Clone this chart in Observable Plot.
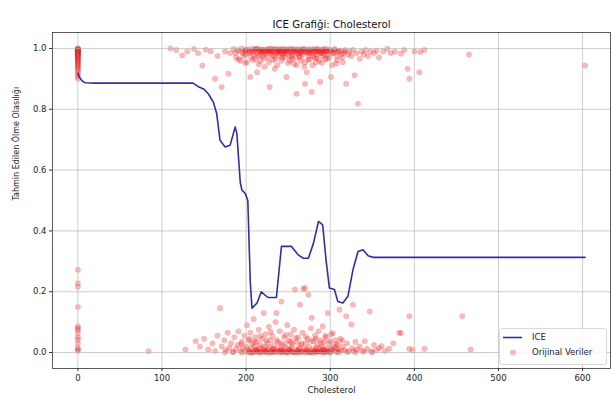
<!DOCTYPE html>
<html>
<head>
<meta charset="utf-8">
<script src="https://cdn.jsdelivr.net/npm/d3@7"></script>
<script src="https://cdn.jsdelivr.net/npm/@observablehq/plot@0.6"></script>
<style>
  html, body { margin: 0; padding: 0; background: white; }
  #chart { position: relative; width: 611px; height: 399px; }
</style>
</head>
<body>
<div id="chart"></div>
<script>
// ---- Texts ----
const titleText = "ICE Grafiği: Cholesterol";
const xLabel = "Cholesterol";
const yLabel = "Tahmin Edilen Ölme Olasılığı";
const legendLabels = ["ICE", "Orijinal Veriler"];

// ---- Ticks ----
const xTicks = [0, 100, 200, 300, 400, 500, 600];
const yTicks = [0.0, 0.2, 0.4, 0.6, 0.8, 1.0];

// ---- ICE curve ----
const iceChol = [0, 2, 4, 6, 9, 20, 60, 100, 137, 144, 150, 155, 161, 165, 169, 175, 181, 187, 189, 191, 193, 195, 199, 202, 205, 207, 213, 218, 222, 226, 236, 242, 254, 262, 268, 274, 280, 286, 291, 295, 299, 305, 309, 315, 321, 327, 333, 339, 345, 351, 450, 603];
const iceProb = [0.918, 0.905, 0.897, 0.891, 0.887, 0.886, 0.886, 0.886, 0.886, 0.873, 0.866, 0.851, 0.824, 0.786, 0.698, 0.676, 0.682, 0.742, 0.72, 0.64, 0.56, 0.534, 0.523, 0.50, 0.228, 0.146, 0.163, 0.20, 0.19, 0.181, 0.181, 0.349, 0.349, 0.321, 0.31, 0.31, 0.359, 0.431, 0.42, 0.305, 0.212, 0.207, 0.168, 0.163, 0.185, 0.272, 0.332, 0.338, 0.318, 0.313, 0.313, 0.313];

// ---- Original data: cholesterol = 0 group ----
const zeroCholTopProbs = [1.0, 0.999, 0.998, 0.997, 0.996, 0.995, 0.994, 0.993, 0.992, 0.99, 0.99, 0.989, 0.988, 0.986, 0.985, 0.984, 0.983, 0.98, 0.979, 0.978, 0.975, 0.974, 0.972, 0.97, 0.968, 0.965, 0.962, 0.96, 0.957, 0.953, 0.95, 0.946, 0.942, 0.938, 0.933, 0.928, 0.922, 0.915, 0.908, 0.9];
const zeroCholBottomProbs = [0.272, 0.228, 0.216, 0.15, 0.086, 0.08, 0.075, 0.064, 0.05, 0.043, 0.03, 0.015, 0.01, 0.005];

// ---- Original data: upper band [cholesterol, probability] ----
const upperBand = [
  [110,1.0],[117,0.995],[124,0.977],[130,0.99],[138,0.998],[143,0.985],[148,0.944],[152,0.996],[158,0.99],[163,0.90],[166,0.975],[171,0.873],[175,0.99],[179,0.917],[181,0.985],
  [185,0.998],[187,0.985],[188,0.97],[190,0.995],[192,0.99],[193,0.96],[195,1.0],[196,0.985],[197,0.975],[199,0.993],[200,0.98],[201,0.955],[202,0.997],[204,0.988],[205,0.906],[206,0.97],[207,0.999],[208,0.99],[209,0.978],[210,0.995],[211,0.965],[212,0.985],[213,0.922],[214,1.0],[215,0.993],[216,0.98],[217,0.96],[218,0.997],[219,0.988],[220,0.975],[221,0.995],[222,0.94],[223,0.99],[224,0.983],[225,0.998],[226,0.97],[227,0.992],[228,0.873],[229,0.985],[230,1.0],[231,0.978],[232,0.995],[233,0.99],[234,0.933],[235,0.965],[236,0.997],[237,0.985],[238,0.992],[239,0.975],[240,0.999],[241,0.988],[242,0.96],[243,0.995],[244,0.98],[245,0.99],[246,0.97],[247,0.998],[248,0.906],[249,0.985],[250,0.993],[251,0.975],[252,0.96],[253,0.997],[254,0.988],[255,0.98],[256,0.995],[257,0.95],[258,0.99],[259,0.97],[260,0.851],[261,0.998],[262,0.985],[263,0.975],[264,0.993],[265,0.96],[266,0.99],[267,0.98],[268,0.997],[269,0.94],[270,0.884],[271,0.988],[272,0.922],[273,0.995],[274,0.975],[275,0.99],[276,0.965],[277,0.998],[278,0.857],[279,0.985],[280,0.993],[281,0.97],[282,0.99],[283,0.955],[284,0.997],[285,0.98],[286,0.99],[287,0.96],[288,0.89],[289,0.995],[290,0.985],[291,0.975],[292,0.998],[293,0.99],[294,0.965],[295,0.993],[297,0.98],[298,0.995],[299,0.97],[301,0.906],[302,0.99],[303,0.985],[305,0.998],[307,0.95],[308,0.975],[310,0.99],[312,0.993],[314,0.97],[316,0.985],[318,0.995],[319,0.884],[321,0.98],[323,0.99],[325,0.975],[327,0.995],[329,0.912],[331,0.985],[333,0.818],[335,0.966],[337,0.99],[340,0.98],[342,0.995],[345,0.975],[348,0.99],[352,0.985],[355,0.993],[358,0.97],[363,0.99],[368,0.999],[372,0.985],[377,0.99],[384,0.983],[388,0.995],[392,0.933],[394,0.90],[400,0.99],[406,0.922],[407,0.988],[412,0.995],[465,0.98],[603,0.944],
  [198,0.99],[203,0.985],[211,0.998],[214,0.975],[217,0.99],[219,0.995],[222,0.985],[225,0.99],[228,0.998],[231,0.99],[233,0.975],[236,0.985],[239,0.995],[241,0.99],[244,0.998],[246,0.985],[248,0.995],[251,0.99],[254,0.975],[257,0.998],[259,0.99],[262,0.995],[265,0.985],[267,0.99],[270,0.998],[273,0.985],[275,0.995],[278,0.99],[280,0.975],[283,0.99],[285,0.998],[288,0.985],[290,0.995],[293,0.98],[296,0.99],[300,0.995],[304,0.985],[309,0.99],[313,0.98],[317,0.99],
  [200,0.995],[206,0.99],[212,0.997],[218,0.99],[224,0.995],[229,0.99],[234,0.998],[238,0.99],[243,0.985],[247,0.99],[252,0.998],[256,0.99],[261,0.985],[266,0.998],[271,0.99],[276,0.985],[281,0.998],[286,0.99],[291,0.99],[295,0.998],[299,0.99],[306,0.995],
  [191,0.965],[199,0.952],[208,0.962],[215,0.948],[221,0.968],[227,0.955],[232,0.962],[237,0.945],[243,0.97],[250,0.952],[255,0.965],[260,0.945],[264,0.97],[270,0.955],[274,0.962],[279,0.945],[284,0.968],[290,0.952],[296,0.965],[302,0.945],[308,0.962],[315,0.955]
];

// ---- Original data: lower band [cholesterol, probability] ----
const lowerBand = [
  [84,0.004],[128,0.01],[140,0.037],[145,0.02],[150,0.045],[155,0.01],[160,0.03],[163,0.005],[166,0.055],[169,0.146],[171,0.02],[174,0.04],[176,0.008],[178,0.065],[180,0.015],[182,0.03],[184,0.002],[186,0.05],[188,0.012],[190,0.025],[191,0.07],[193,0.005],[195,0.035],[196,0.015],[198,0.055],[199,0.003],[200,0.02],[201,0.09],[202,0.01],[203,0.04],[204,0.005],[205,0.065],[206,0.015],[207,0.03],[208,0.002],[209,0.11],[210,0.02],[211,0.05],[212,0.008],[213,0.035],[214,0.003],[215,0.075],[216,0.015],[217,0.025],[218,0.005],[219,0.045],[220,0.012],[221,0.13],[222,0.02],[223,0.06],[224,0.004],[225,0.03],[226,0.01],[227,0.085],[228,0.018],[229,0.04],[230,0.002],[231,0.055],[232,0.012],[233,0.025],[234,0.006],[235,0.1],[236,0.13],[237,0.015],[238,0.035],[239,0.004],[240,0.07],[241,0.01],[242,0.168],[243,0.022],[244,0.005],[245,0.05],[246,0.015],[247,0.03],[248,0.003],[249,0.09],[250,0.012],[251,0.04],[252,0.006],[253,0.06],[254,0.018],[255,0.028],[256,0.002],[257,0.075],[258,0.207],[259,0.01],[260,0.035],[261,0.005],[262,0.05],[263,0.015],[264,0.157],[265,0.025],[266,0.004],[267,0.065],[268,0.21],[269,0.012],[270,0.212],[271,0.03],[272,0.006],[273,0.045],[274,0.19],[275,0.018],[276,0.003],[277,0.08],[278,0.114],[279,0.01],[280,0.038],[281,0.005],[282,0.055],[283,0.015],[284,0.025],[285,0.002],[286,0.07],[287,0.012],[288,0.04],[289,0.006],[290,0.02],[291,0.086],[292,0.01],[293,0.035],[294,0.004],[295,0.05],[296,0.015],[297,0.13],[298,0.008],[299,0.03],[300,0.002],[301,0.06],[302,0.012],[303,0.064],[304,0.02],[305,0.005],[306,0.04],[307,0.015],[308,0.003],[309,0.025],[310,0.01],[311,0.141],[312,0.045],[313,0.006],[315,0.02],[317,0.008],[319,0.119],[320,0.03],[322,0.004],[325,0.092],[326,0.015],[327,0.157],[328,0.006],[330,0.035],[332,0.01],[335,0.02],[338,0.005],[341,0.037],[344,0.012],[347,0.135],[349,0.004],[352,0.025],[355,0.008],[358,0.015],[361,0.021],[365,0.005],[370,0.012],[375,0.03],[382,0.065],[384,0.064],[394,0.119],[394,0.012],[398,0.008],[412,0.012],[457,0.119],[467,0.01],
  [205,0.0],[210,0.003],[215,0.0],[220,0.002],[225,0.0],[230,0.004],[235,0.001],[240,0.0],[245,0.003],[250,0.0],[255,0.002],[260,0.0],[265,0.003],[270,0.0],[275,0.002],[280,0.0],[285,0.004],[290,0.0],[295,0.002],[300,0.0],[212,0.01],[222,0.008],[232,0.01],[242,0.006],[252,0.01],[262,0.008],[272,0.01],[282,0.006],[292,0.01],[302,0.008],[175,0.0],[185,0.002],[195,0.0],[310,0.0],[320,0.002],[330,0.0],[340,0.003],[350,0.0],
  [203,0.002],[208,0.0],[213,0.005],[218,0.001],[223,0.003],[228,0.0],[233,0.002],[238,0.005],[243,0.001],[248,0.0],[253,0.004],[258,0.001],[263,0.0],[268,0.003],[273,0.001],[278,0.0],[283,0.002],[288,0.004],[293,0.0],[298,0.003],
  [194,0.028],[204,0.045],[210,0.035],[217,0.055],[224,0.04],[229,0.068],[236,0.042],[241,0.03],[247,0.058],[253,0.035],[259,0.048],[266,0.03],[271,0.052],[277,0.038],[283,0.045],[289,0.03],[294,0.055],[300,0.038],[307,0.028],[314,0.04]
];

// ---- Build tables ----
const ice = iceChol.map((c, i) => ({chol: c, prob: iceProb[i]}));
const original = [
  ...zeroCholTopProbs.map(p => ({chol: 0, prob: p})),
  ...zeroCholBottomProbs.map(p => ({chol: 0, prob: p})),
  ...upperBand.map(([c, p]) => ({chol: c, prob: p})),
  ...lowerBand.map(([c, p]) => ({chol: c, prob: p}))
];

const lineColor = "#3030a6";
const dotColor = "red";
const dotOpacity = 0.28;

const chart = Plot.plot({
  width: 611,
  height: 399,
  marginLeft: 52,
  marginRight: 1,
  marginTop: 32,
  marginBottom: 31,
  style: {fontFamily: "DejaVu Sans, sans-serif", fontSize: "8.5px", background: "white", color: "#222", overflow: "visible"},
  x: {domain: [-30.2, 633.2], label: null},
  y: {domain: [-0.0525, 1.0525], label: null},
  marks: [
    Plot.dot(original, {x: "chol", y: "prob", r: 2.8, fill: dotColor, fillOpacity: dotOpacity, stroke: "#a07878", strokeOpacity: 0.2, strokeWidth: 0.6}),
    Plot.gridX(xTicks, {stroke: "#b0b0b0", strokeOpacity: 0.9, strokeWidth: 0.7}),
    Plot.gridY(yTicks, {stroke: "#b0b0b0", strokeOpacity: 0.9, strokeWidth: 0.7}),
    Plot.line(ice, {x: "chol", y: "prob", stroke: lineColor, strokeWidth: 1.6}),
    Plot.frame({stroke: "#333", strokeWidth: 0.8}),
    Plot.axisX(xTicks, {tickSize: 3, tickPadding: 3, tickFormat: d => String(d), stroke: "#333", fill: "#222", label: null}),
    Plot.axisY(yTicks, {tickSize: 3, tickPadding: 3, tickFormat: d => d.toFixed(1), stroke: "#333", fill: "#222", label: null}),
    Plot.text([titleText], {frameAnchor: "top", dy: -12, fontSize: 10.2, fill: "#111"}),
    Plot.text([xLabel], {frameAnchor: "bottom", dy: 24, fontSize: 8.5, fill: "#222"}),
    Plot.text([yLabel], {frameAnchor: "left", dx: -36, rotate: -90, fontSize: 8, fill: "#222"})
  ]
});

document.getElementById("chart").appendChild(chart);

// ---- Legend (lower right, inside axes) ----
const svg = d3.select(chart);
const lg = svg.append("g").attr("font-family", "DejaVu Sans, sans-serif").attr("font-size", "8.5px").attr("text-anchor", "start");
lg.append("rect").attr("x", 499.5).attr("y", 328.5).attr("width", 107).attr("height", 36).attr("rx", 2.5)
  .attr("fill", "white").attr("fill-opacity", 0.85).attr("stroke", "#d0d0d0").attr("stroke-width", 0.8);
lg.append("line").attr("x1", 503).attr("x2", 522).attr("y1", 337.5).attr("y2", 337.5)
  .attr("stroke", lineColor).attr("stroke-width", 1.6);
lg.append("text").attr("x", 532).attr("y", 337.5).attr("dy", "0.35em").attr("text-anchor", "start").attr("fill", "#222").text(legendLabels[0]);
lg.append("circle").attr("cx", 513).attr("cy", 352.5).attr("r", 2.8).attr("fill", dotColor).attr("fill-opacity", dotOpacity)
  .attr("stroke", "#a07878").attr("stroke-opacity", 0.2).attr("stroke-width", 0.6);
lg.append("text").attr("x", 532).attr("y", 352.5).attr("dy", "0.35em").attr("text-anchor", "start").attr("fill", "#222").text(legendLabels[1]);
</script>
</body>
</html>
